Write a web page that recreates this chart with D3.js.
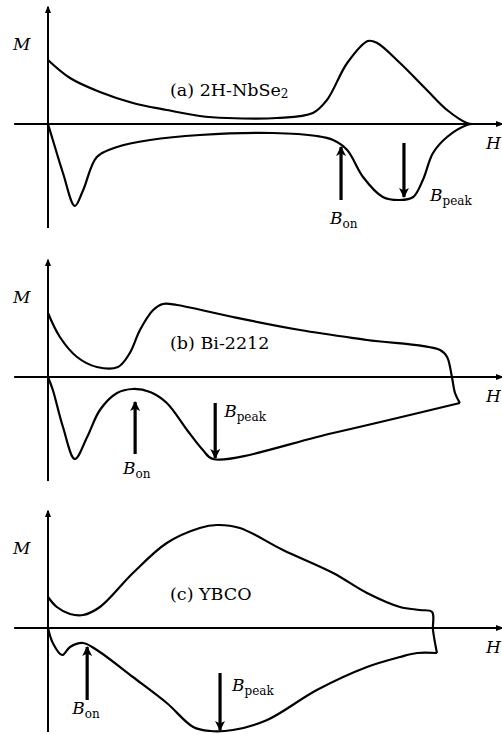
<!DOCTYPE html>
<html>
<head>
<meta charset="utf-8">
<script src="https://cdn.jsdelivr.net/npm/d3@7"></script>
<style>
  body { margin: 0; background: #fff; }
  svg text { font-family: "DejaVu Serif", "Liberation Serif", serif; fill: #000; }
</style>
</head>
<body>
<div id="chart"></div>
<script>
// H in arbitrary units (0..100), M in arbitrary units (-1..1)

// (a) 2H-NbSe2
const upperA = [[0,0.64],[5,0.46],[11.8,0.32],[19.3,0.21],[27,0.14],[34.5,0.08],[40.7,0.06],
    [52,0.06],[60.2,0.11],[63.4,0.24],[68,0.61],[72.7,0.83],[74.8,0.81],[80,0.61],[86.1,0.34],
    [90.7,0.14],[95.2,0.01],[96.5,0]];
const lowerA = [[0,0],[1.1,-0.16],[3.4,-0.49],[6.1,-0.82],[8,-0.66],[11.1,-0.33],[15.7,-0.23],
    [23.2,-0.16],[34.5,-0.11],[51.1,-0.09],[61.1,-0.12],[64.8,-0.16],[68,-0.26],[71.6,-0.53],
    [76.1,-0.73],[80,-0.76],[83,-0.73],[85.2,-0.56],[87.5,-0.29],[90.7,-0.13],[95.2,-0.01],[96.5,0]];

// (b) Bi-2212
const upperB = [[0,0.64],[2.7,0.40],[6.6,0.20],[11.1,0.10],[15.9,0.10],[18.6,0.24],[20.9,0.47],
    [23.9,0.67],[26.1,0.73],[29.3,0.72],[42,0.60],[57.3,0.47],[72.5,0.37],[89.1,0.27],
    [90.7,0.20],[91.8,0],[92.5,-0.16],[93.6,-0.26]];
const lowerB = [[0,0],[1.1,-0.13],[3.4,-0.50],[6.1,-0.82],[8.9,-0.60],[11.8,-0.33],[15.7,-0.16],
    [19.3,-0.12],[23.2,-0.15],[27,-0.26],[31.6,-0.53],[35.2,-0.73],[37.5,-0.82],[64.8,-0.56],[93.6,-0.26]];

// (c) YBCO
const upperC = [[0,0.31],[2,0.21],[5,0.14],[8,0.13],[11.8,0.21],[19.3,0.55],[27,0.85],[34.5,1.0],
    [38.4,1.03],[43.6,1.0],[53.4,0.78],[64.8,0.55],[72.5,0.35],[80,0.21],[84.5,0.18],[87.3,0.16],
    [87.5,-0.02],[88.4,-0.25]];
const lowerC = [[0,0],[1.1,-0.15],[3.2,-0.27],[5,-0.19],[8,-0.15],[11.1,-0.22],[19.3,-0.49],
    [27,-0.75],[33,-0.99],[36.8,-1.03],[42,-1.02],[49.8,-0.92],[61.1,-0.62],[72.5,-0.39],
    [80,-0.29],[83.9,-0.25],[88.4,-0.25]];

const panelLabels = ["(a) 2H-NbSe", "(b) Bi-2212", "(c) YBCO"];
const panelLabelSubs = ["2", "", ""];

// annotation arrows: [H, M start, M tip]
const onArrows   = [[66.6,-0.76,-0.23],[19.8,-0.77,-0.25],[8.9,-0.72,-0.19]];
const peakArrows = [[80.9,-0.19,-0.73],[38.0,-0.26,-0.81],[39.1,-0.45,-1.02]];

const width = 502, height = 734;
const zeroY = [124, 377, 628];

const svg = d3.select("#chart").append("svg")
    .attr("width", width)
    .attr("height", height);

const defs = svg.append("defs");
defs.append("marker")
    .attr("id", "axisHead")
    .attr("markerUnits", "userSpaceOnUse")
    .attr("viewBox", "0 0 10 10")
    .attr("refX", 8).attr("refY", 5)
    .attr("markerWidth", 8).attr("markerHeight", 8)
    .attr("orient", "auto")
    .append("path").attr("d", "M0,1 L10,5 L0,9 z").attr("fill", "#000");
defs.append("marker")
    .attr("id", "arrowHead")
    .attr("markerUnits", "userSpaceOnUse")
    .attr("viewBox", "0 0 10 10")
    .attr("refX", 9).attr("refY", 5)
    .attr("markerWidth", 14).attr("markerHeight", 10)
    .attr("orient", "auto")
    .append("path").attr("d", "M0,0 L10,5 L0,10 L2.5,5 z").attr("fill", "#000");

const x = d3.scaleLinear().domain([0, 100]).range([48, 488]);

const panels = [
    { upper: upperA, lower: lowerA },
    { upper: upperB, lower: lowerB },
    { upper: upperC, lower: lowerC },
];

panels.forEach((p, i) => {
    const z = zeroY[i];
    const y = d3.scaleLinear().domain([-1, 1]).range([z + 100, z - 100]);
    const g = svg.append("g");

    // axes
    g.append("line")
        .attr("x1", x(0)).attr("x2", x(0))
        .attr("y1", y(-1.04)).attr("y2", y(1.17))
        .attr("stroke", "#000").attr("stroke-width", 2)
        .attr("marker-end", "url(#axisHead)");
    g.append("line")
        .attr("x1", x(-7.7)).attr("x2", x(103.2))
        .attr("y1", y(0)).attr("y2", y(0))
        .attr("stroke", "#000").attr("stroke-width", 2)
        .attr("marker-end", "url(#axisHead)");

    const line = d3.line()
        .x(d => x(d[0]))
        .y(d => y(d[1]))
        .curve(d3.curveCatmullRom.alpha(0.5));

    [p.upper, p.lower].forEach(series => {
        g.append("path")
            .datum(series)
            .attr("d", line)
            .attr("fill", "none")
            .attr("stroke", "#000")
            .attr("stroke-width", 2.2)
            .attr("stroke-linejoin", "round");
    });

    // B_on and B_peak arrows
    [onArrows[i], peakArrows[i]].forEach(a => {
        g.append("line")
            .attr("x1", x(a[0])).attr("x2", x(a[0]))
            .attr("y1", y(a[1])).attr("y2", y(a[2]))
            .attr("stroke", "#000").attr("stroke-width", 3.2)
            .attr("marker-end", "url(#arrowHead)");
    });

    // axis labels
    g.append("text")
        .attr("x", 13).attr("y", z - 74)
        .attr("font-size", 17).attr("font-style", "italic")
        .text("M");
    g.append("text")
        .attr("x", 486).attr("y", z + 25)
        .attr("font-size", 17).attr("font-style", "italic")
        .text("H");

    // panel title
    const t = g.append("text")
        .attr("x", 170).attr("y", z - 28)
        .attr("font-size", 17.5)
        .text(panelLabels[i]);
    if (panelLabelSubs[i]) {
        t.append("tspan").attr("font-size", 12).attr("dy", 2).text(panelLabelSubs[i]);
    }

    function bLabel(px, py, sub) {
        const tx = g.append("text").attr("x", px).attr("y", py).attr("font-size", 17);
        tx.append("tspan").attr("font-style", "italic").text("B");
        tx.append("tspan").attr("font-size", 12).attr("dy", 4).text(sub);
    }
    const onLabelOffsets = [[-11, 100], [-12, 97], [-15, 86]];
    const peakLabelOffsets = [[26, 77], [9, 40], [12, 63]];
    bLabel(x(onArrows[i][0]) + onLabelOffsets[i][0], z + onLabelOffsets[i][1], "on");
    bLabel(x(peakArrows[i][0]) + peakLabelOffsets[i][0], z + peakLabelOffsets[i][1], "peak");
});
</script>
</body>
</html>
